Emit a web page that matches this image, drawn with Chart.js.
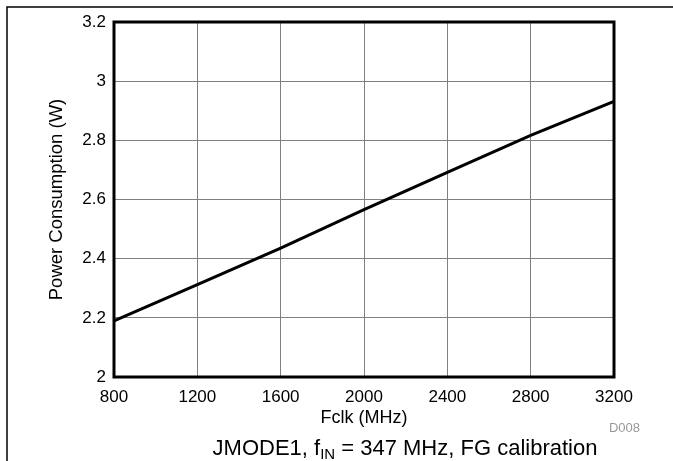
<!DOCTYPE html>
<html>
<head>
<meta charset="utf-8">
<script src="https://cdn.jsdelivr.net/npm/chart.js@4"></script>
<style>
  body { margin: 0; background: #fff; }
  #wrap { width: 673px; height: 461px; }
</style>
</head>
<body>
<div id="wrap"><canvas id="myChart" width="673" height="461"></canvas></div>
<script>
// datos
const fclk = [800, 1200, 1600, 2000, 2400, 2800, 3200];
const power = [2.19, 2.312, 2.436, 2.566, 2.692, 2.817, 2.932];
const xTicks = [800, 1200, 1600, 2000, 2400, 2800, 3200];
const yTicks = [2, 2.2, 2.4, 2.6, 2.8, 3, 3.2];

const FONT = 'Liberation Sans, Arial, Helvetica, sans-serif';

// marco de la pagina, borde del area y texto de abajo
const extras = {
    id: 'extras',
    beforeDraw(chart) {
        const c = chart.ctx;
        c.save();
        c.strokeStyle = '#000';
        c.lineWidth = 1.5;
        c.beginPath();
        c.moveTo(7, 461);
        c.lineTo(7, 7);
        c.lineTo(673, 7);
        c.stroke();
        c.restore();
    },
    afterDraw(chart) {
        const c = chart.ctx;
        const a = chart.chartArea;
        c.save();
        c.strokeStyle = '#000';
        c.lineWidth = 3;
        c.strokeRect(a.left, a.top, a.right - a.left, a.bottom - a.top);

        c.fillStyle = '#999';
        c.font = '13px ' + FONT;
        c.textAlign = 'right';
        c.textBaseline = 'middle';
        c.fillText('D008', 640, 428);

        // JMODE1, f_IN = 347 MHz, FG calibration
        c.fillStyle = '#000';
        c.textAlign = 'left';
        c.textBaseline = 'alphabetic';
        const big = '22px ' + FONT, small = '15px ' + FONT;
        const p1 = 'JMODE1, f', sub = 'IN', p2 = ' = 347 MHz, FG calibration';
        c.font = big;
        const w1 = c.measureText(p1).width, w3 = c.measureText(p2).width;
        c.font = small;
        const w2 = c.measureText(sub).width;
        let x = 405 - (w1 + w2 + w3) / 2;
        const y = 455;
        c.font = big; c.fillText(p1, x, y); x += w1;
        c.font = small; c.fillText(sub, x, y + 4); x += w2;
        c.font = big; c.fillText(p2, x, y);
        c.restore();
    }
};

const ctx = document.getElementById('myChart');
const myChart = new Chart(ctx, {
    type: 'line',
    data: {
        datasets: [{
            label: 'Power',
            data: fclk.map((f, i) => ({ x: f, y: power[i] })),
            borderColor: '#000',
            borderWidth: 3,
            pointRadius: 0,
            tension: 0,
            fill: false
        }]
    },
    options: {
        responsive: false,
        devicePixelRatio: 1,
        animation: false,
        layout: { padding: { left: 46, top: 22, right: 59, bottom: 32 } },
        plugins: { legend: { display: false }, tooltip: { enabled: false } },
        scales: {
            x: {
                type: 'linear',
                min: 800, max: 3200,
                afterBuildTicks: s => { s.ticks = xTicks.map(v => ({ value: v })); },
                afterFit: s => { s.height = 52; },
                grid: { color: '#808080', lineWidth: 1, drawTicks: false },
                border: { display: false },
                ticks: {
                    color: '#000', padding: 10,
                    font: { family: FONT, size: 17 },
                    callback: v => String(v)
                },
                title: {
                    display: true, text: 'Fclk (MHz)', color: '#000',
                    font: { family: FONT, size: 18 }, padding: { top: 0, bottom: 0 }
                }
            },
            y: {
                min: 2, max: 3.2,
                afterBuildTicks: s => { s.ticks = yTicks.map(v => ({ value: v })); },
                afterFit: s => { s.width = 68; },
                grid: { color: '#808080', lineWidth: 1, drawTicks: false },
                border: { display: false },
                ticks: {
                    color: '#000', padding: 8,
                    font: { family: FONT, size: 17 },
                    callback: v => String(Math.round(v * 10) / 10)
                },
                title: {
                    display: true, text: 'Power Consumption (W)', color: '#000',
                    font: { family: FONT, size: 18.5 }, padding: { top: 0, bottom: 0 }
                }
            }
        }
    },
    plugins: [extras]
});
</script>
</body>
</html>
